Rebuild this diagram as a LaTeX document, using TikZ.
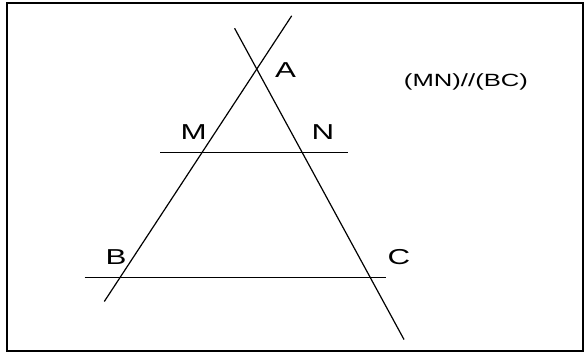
\documentclass[tikz,border=0pt]{standalone}
\usepackage{graphicx}
\usepackage{fontspec}
\setmainfont{Liberation Sans}

\newcommand{\widetext}[1]{\scalebox{1.45}[1]{#1}}

\begin{document}
\begin{tikzpicture}[x=1pt, y=-1pt,
    frame/.style={line width=2pt},
    geoline/.style={line width=1.2pt},
    ptlabel/.style={inner sep=0pt, font=\fontsize{21.6}{24}\selectfont},
    relation/.style={inner sep=0pt, font=\fontsize{17.7}{20}\selectfont}
  ]
    \useasboundingbox (0,0) rectangle (584,354);
    \draw[frame] (7,2.8) rectangle (583,351.4);

    % line ends
    \coordinate (ab1) at (104.3,301.5);
    \coordinate (ab2) at (291.7,15.8);
    \coordinate (ac1) at (234.6,28.3);
    \coordinate (ac2) at (404.0,339.5);
    \coordinate (mn1) at (160.0,152.7);
    \coordinate (mn2) at (348.3,152.7);
    \coordinate (bc1) at (84.5,277.3);
    \coordinate (bc2) at (385.7,277.3);

    \draw[geoline] (ab1) -- (ab2);
    \draw[geoline] (ac1) -- (ac2);
    \draw[geoline] (mn1) -- (mn2);
    \draw[geoline] (bc1) -- (bc2);

    \node[ptlabel] (A) at (285.5,70.5) {\widetext{A}};
    \node[ptlabel] (M) at (193.7,131.7) {\widetext{M}};
    \node[ptlabel] (N) at (323.0,131.7) {\widetext{N}};
    \node[ptlabel] (B) at (116.0,256.7) {\widetext{B}};
    \node[ptlabel] (C) at (399.0,257.5) {\widetext{C}};

    \node[relation] (rel) at (466,81.7) {\widetext{(MN)//(BC)}};
  \end{tikzpicture}
\end{document}
